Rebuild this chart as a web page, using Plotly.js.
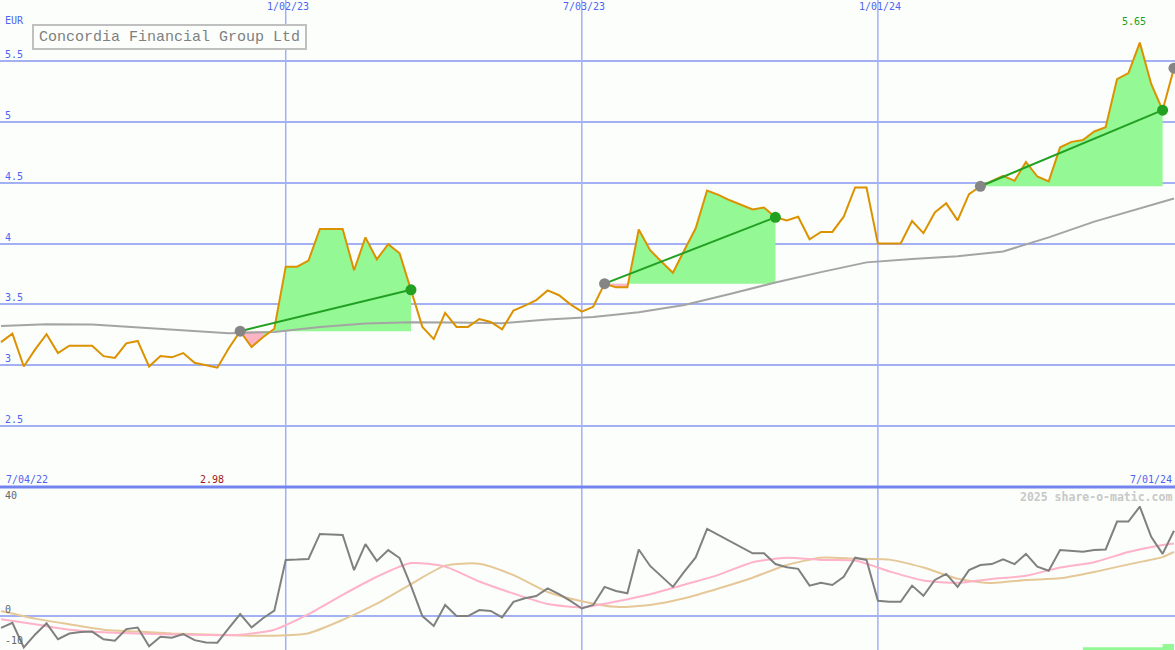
<!DOCTYPE html>
<html>
<head>
<meta charset="utf-8">
<script src="https://cdn.plot.ly/plotly-3.0.1.min.js"></script>
<style>
  html, body { margin: 0; padding: 0; background: #fbfefb; }
  #chart { width: 1175px; height: 650px; }
</style>
</head>
<body>
<div id="chart"></div>
<script>
// ---------- DATA ----------
const chartTitle = 'Concordia Financial Group Ltd';
const currency = 'EUR';
const firstWeek = '2022-07-11';           // first weekly close
const startLabel = '7/04/22';
const endLabel = '7/01/24';

// weekly closing price, EUR
const price = [
  3.19, 3.26, 2.99, 3.13, 3.255, 3.10, 3.16, 3.16, 3.16, 3.075,
  3.06, 3.18, 3.20, 2.99, 3.075, 3.065, 3.10, 3.02, 3.00, 2.98,
  3.14, 3.28, 3.15, 3.23, 3.30, 3.81, 3.81, 3.86, 4.12, 4.12,
  4.12, 3.78, 4.05, 3.87, 3.995, 3.92, 3.62, 3.315, 3.215, 3.43,
  3.315, 3.315, 3.38, 3.355, 3.295, 3.45, 3.49, 3.535, 3.615, 3.575,
  3.50, 3.44, 3.48, 3.67, 3.64, 3.64, 4.115, 3.945, 3.85, 3.76,
  3.945, 4.125, 4.435, 4.40, 4.355, 4.315, 4.28, 4.295, 4.215, 4.19,
  4.22, 4.035, 4.095, 4.095, 4.22, 4.46, 4.46, 4.00, 4.00, 4.00,
  4.185, 4.085, 4.255, 4.33, 4.19, 4.405, 4.47, 4.515, 4.555, 4.515,
  4.67, 4.55, 4.51, 4.79, 4.835, 4.85, 4.92, 4.955, 5.35, 5.40,
  5.65, 5.31, 5.095, 5.44
];

// long moving average (gray line in the price panel), sampled at these week numbers
const maWeeks  = [0, 4, 8, 12, 16, 20, 24, 28, 32, 36, 40, 44, 48, 52, 56, 60, 64, 68, 72, 76, 80, 84, 88, 92, 96, 100, 103];
const maValues = [3.323, 3.337, 3.335, 3.31, 3.285, 3.262, 3.274, 3.315, 3.343, 3.353, 3.352, 3.345, 3.375, 3.397, 3.435, 3.495, 3.585, 3.68, 3.765, 3.845, 3.872, 3.895, 3.935, 4.05, 4.18, 4.285, 4.37];

// momentum oscillator (gray line, lower panel)
const momentum = [
  -3.8, -2.2, -10.0, -5.9, -2.4, -7.4, -5.6, -5.1, -5.0, -7.4,
  -7.9, -4.2, -3.7, -9.6, -6.6, -6.9, -5.8, -7.7, -8.4, -8.5,
  -3.9, 0.5, -3.7, -0.8, 1.6, 17.6, 17.7, 17.9, 25.8, 25.6,
  25.5, 14.4, 22.6, 17.3, 20.7, 18.2, 9.4, -0.1, -3.2, 3.4,
  -0.1, -0.1, 1.8, 1.5, -0.5, 4.4, 5.5, 6.2, 8.6, 6.8,
  4.7, 2.3, 3.4, 9.1, 7.8, 7.1, 20.9, 15.7, 12.3, 9.1,
  13.9, 18.4, 27.4, 25.5, 23.6, 21.8, 19.7, 19.7, 16.3, 15.3,
  14.8, 9.5, 10.4, 9.7, 12.3, 18.3, 17.6, 4.7, 4.4, 4.4,
  9.5, 6.3, 11.3, 13.2, 9.1, 14.4, 16.0, 16.3, 17.8, 16.3,
  19.5, 15.5, 14.2, 20.7, 20.5, 20.2, 20.7, 20.9, 29.7, 29.7,
  34.4, 24.9, 19.5, 26.8
];

// smoothed oscillator lines (pink = fast, tan = slow), sampled at these week numbers
const smoothWeeks = [0, 3, 6, 9, 12, 15, 18, 21, 24, 27, 30, 33, 36, 39, 42, 45, 48, 51, 54, 57, 60, 63, 66, 69, 72, 75, 78, 81, 84, 87, 90, 93, 96, 99, 102, 103];
const fastLine = [-1.1, -2.7, -4.4, -5.2, -5.6, -5.9, -6.1, -6.0, -4.4, 0.5, 6.6, 12.3, 16.6, 15.5, 10.8, 7.0, 3.7, 2.7, 4.5, 6.8, 9.8, 12.9, 16.9, 18.3, 17.6, 17.4, 14.0, 11.1, 10.4, 11.6, 12.6, 15.2, 16.9, 20.1, 22.3, 22.8];
const slowLine = [1.5, -0.9, -2.7, -4.4, -5.0, -5.6, -5.9, -6.2, -6.3, -5.5, -1.3, 3.8, 10.0, 15.8, 16.4, 12.8, 7.5, 4.6, 2.8, 3.4, 5.5, 8.6, 12.0, 16.0, 18.3, 18.0, 17.7, 15.2, 11.7, 10.3, 11.3, 11.8, 13.8, 16.2, 18.5, 20.1];

// trend signals: [start week, end week, last week below the start level]
const signalStart = [21, 53, 86];
const signalEnd   = [36, 68, 102];
const signalDip   = [23, 55, null];

// signal bar at the foot of the lower panel
const barWeeks  = [95, 96, 97, 98, 99, 100, 101, 102, 103];
const barValues = [-9.9, -9.9, -9.9, -9.9, -9.9, -9.9, -9.9, -8.9, -8.9];

// axis labels
const priceTicks = [2.5, 3, 3.5, 4, 4.5, 5, 5.5];
const priceTickText = ['2.5', '3', '3.5', '4', '4.5', '5', '5.5'];
const oscTicks = [40, 0, -10];
const oscTickText = ['40', '0', '-10'];
const dateTicks = ['2023-01-02', '2023-07-03', '2024-01-01'];
const dateTickText = ['1/02/23', '7/03/23', '1/01/24'];
const lowLabel = '2.98', lowWeek = 19;
const highLabel = '5.65', highWeek = 100;
const credit = '2025 share-o-matic.com';

// ---------- BUILD ----------
const dates = [];
{
  const t0 = Date.parse(firstWeek + 'T00:00:00Z');
  for (let i = 0; i < price.length; i++) {
    dates.push(new Date(t0 + i * 7 * 86400000).toISOString().slice(0, 10));
  }
}
const pick = (arr, idx) => idx.map(i => arr[i]);
const range = (a, b) => { const r = []; for (let i = a; i <= b; i++) r.push(i); return r; };

const BG = '#fbfefb';
const GRID = '#a4b0f4';
const BLUE_TXT = '#5064f0';
const MONO = 'DejaVu Sans Mono, Liberation Mono, monospace';
const GREEN_FILL = '#94f894';
const PINK_FILL = '#ffb4c6';
const SPLIT = 163 / 650;

const traces = [];

// signal fills
for (let k = 0; k < signalStart.length; k++) {
  const s = signalStart[k], e = signalEnd[k], base = price[s];
  const idx = range(s, e);
  traces.push({ x: pick(dates, idx), y: idx.map(() => base), mode: 'lines', line: { width: 0 }, hoverinfo: 'skip', showlegend: false });
  traces.push({ x: pick(dates, idx), y: pick(price, idx), mode: 'lines', line: { width: 0 }, fill: 'tonexty', fillcolor: GREEN_FILL, hoverinfo: 'skip', showlegend: false });
  if (signalDip[k] !== null) {
    const pidx = range(s, signalDip[k]);
    traces.push({ x: pick(dates, pidx), y: pidx.map(() => base), mode: 'lines', line: { width: 0 }, hoverinfo: 'skip', showlegend: false });
    traces.push({ x: pick(dates, pidx), y: pick(price, pidx), mode: 'lines', line: { width: 0 }, fill: 'tonexty', fillcolor: PINK_FILL, hoverinfo: 'skip', showlegend: false });
  }
}

// moving average
traces.push({ x: pick(dates, maWeeks), y: maValues, mode: 'lines', line: { color: '#a4a4a4', width: 2 }, showlegend: false });
// price
traces.push({ x: dates, y: price, mode: 'lines', line: { color: '#dc9200', width: 2 }, showlegend: false });

// trend lines and markers
for (let k = 0; k < signalStart.length; k++) {
  const s = signalStart[k], e = signalEnd[k];
  traces.push({ x: [dates[s], dates[e]], y: [price[s], price[e]], mode: 'lines', line: { color: '#22a022', width: 2 }, showlegend: false });
  traces.push({ x: [dates[s]], y: [price[s]], mode: 'markers', marker: { color: '#858585', size: 11 }, showlegend: false });
  traces.push({ x: [dates[e]], y: [price[e]], mode: 'markers', marker: { color: '#22a022', size: 11 }, showlegend: false });
}
const last = price.length - 1;
traces.push({ x: [dates[last]], y: [price[last]], mode: 'markers', marker: { color: '#858585', size: 11 }, showlegend: false, cliponaxis: false });

// lower panel
traces.push({ x: pick(dates, barWeeks), y: barWeeks.map(() => -11), mode: 'lines', line: { width: 0 }, yaxis: 'y2', showlegend: false, hoverinfo: 'skip' });
traces.push({ x: pick(dates, barWeeks), y: barValues, mode: 'lines', line: { width: 0, shape: 'hv' }, fill: 'tonexty', fillcolor: GREEN_FILL, yaxis: 'y2', showlegend: false });
traces.push({ x: pick(dates, smoothWeeks), y: slowLine, mode: 'lines', line: { color: '#e6c898', width: 2, shape: 'spline', smoothing: 0.6 }, yaxis: 'y2', showlegend: false });
traces.push({ x: pick(dates, smoothWeeks), y: fastLine, mode: 'lines', line: { color: '#ffb2c8', width: 2, shape: 'spline', smoothing: 0.6 }, yaxis: 'y2', showlegend: false });
traces.push({ x: dates, y: momentum, mode: 'lines', line: { color: '#808080', width: 2 }, yaxis: 'y2', showlegend: false });

// annotations
const ann = [];
const txt = (o) => Object.assign({ showarrow: false, font: { family: MONO, size: 10, color: BLUE_TXT } }, o);
priceTicks.forEach((v, i) => ann.push(txt({ text: priceTickText[i], xref: 'paper', x: 0, xanchor: 'left', xshift: 3, yref: 'y', y: v, yanchor: 'bottom', yshift: -1 })));
oscTicks.forEach((v, i) => ann.push(txt({ text: oscTickText[i], xref: 'paper', x: 0, xanchor: 'left', xshift: 3, yref: 'y2', y: v, yanchor: v > 20 ? 'top' : 'bottom', yshift: v > 20 ? 1 : -1, font: { family: MONO, size: 10, color: '#666666' } })));
dateTicks.forEach((d, i) => ann.push(txt({ text: dateTickText[i], xref: 'x', x: d, xanchor: 'center', xshift: 2, yref: 'paper', y: 1, yanchor: 'top', yshift: 1 })));
ann.push(txt({ text: currency, xref: 'paper', x: 0, xanchor: 'left', xshift: 3, yref: 'paper', y: 1, yanchor: 'top', yshift: -13 }));
ann.push(txt({ text: startLabel, xref: 'paper', x: 0, xanchor: 'left', xshift: 4, yref: 'paper', y: SPLIT, yanchor: 'bottom', yshift: 0 }));
ann.push(txt({ text: endLabel, xref: 'paper', x: 1, xanchor: 'right', xshift: -1, yref: 'paper', y: SPLIT, yanchor: 'bottom', yshift: 0 }));
ann.push(txt({ text: lowLabel, xref: 'x', x: dates[lowWeek], xanchor: 'center', xshift: -5, yref: 'paper', y: SPLIT, yanchor: 'bottom', yshift: 0, font: { family: MONO, size: 10, color: '#a01818' } }));
ann.push(txt({ text: highLabel, xref: 'x', x: dates[highWeek], xanchor: 'center', xshift: -6, yref: 'paper', y: 1, yanchor: 'top', yshift: -14, font: { family: MONO, size: 10, color: '#20a020' } }));
ann.push(txt({ text: '<b>' + credit + '</b>', xref: 'paper', x: 1, xanchor: 'right', xshift: -1, yref: 'paper', y: SPLIT, yanchor: 'top', yshift: -1, font: { family: MONO, size: 11.5, color: '#c8c8c8' } }));
ann.push(txt({ text: chartTitle, xref: 'paper', x: 0, xanchor: 'left', xshift: 32, yref: 'paper', y: 1, yanchor: 'top', yshift: -24, width: 267, height: 18, bordercolor: '#c0c0c0', borderwidth: 2, borderpad: 2, bgcolor: BG, font: { family: 'Liberation Mono, DejaVu Sans Mono, monospace', size: 15, color: '#808080' } }));

// vertical date grid lines spanning both panels
const shapes = dateTicks.map(d => ({ type: 'line', xref: 'x', yref: 'paper', x0: d, x1: d, y0: 0, y1: 1, line: { color: GRID, width: 1.5 }, layer: 'below' }));
shapes.push({ type: 'line', xref: 'paper', yref: 'paper', x0: 0, x1: 1, y0: SPLIT, y1: SPLIT, line: { color: '#7484ee', width: 3 } });

const layout = {
  width: 1175, height: 650,
  margin: { l: 0, r: 0, t: 0, b: 0 },
  paper_bgcolor: BG, plot_bgcolor: BG,
  showlegend: false,
  xaxis: {
    type: 'date', range: ['2022-07-10 09:00', '2024-07-01 15:00'],
    showticklabels: false, ticks: '',
    showgrid: false, zeroline: false, showline: false, anchor: 'y2'
  },
  yaxis: {
    domain: [SPLIT, 1], range: [2.0, 6.0], tickvals: priceTicks, showticklabels: false, ticks: '',
    showgrid: true, gridcolor: GRID, gridwidth: 2, zeroline: false, showline: false
  },
  yaxis2: {
    domain: [0, SPLIT], range: [-10.8, 40.6], tickvals: [0], showticklabels: false, ticks: '',
    showgrid: true, gridcolor: GRID, gridwidth: 2, zeroline: false, showline: false
  },
  shapes: shapes,
  annotations: ann
};

Plotly.newPlot('chart', traces, layout, { staticPlot: true, displayModeBar: false });
</script>
</body>
</html>
